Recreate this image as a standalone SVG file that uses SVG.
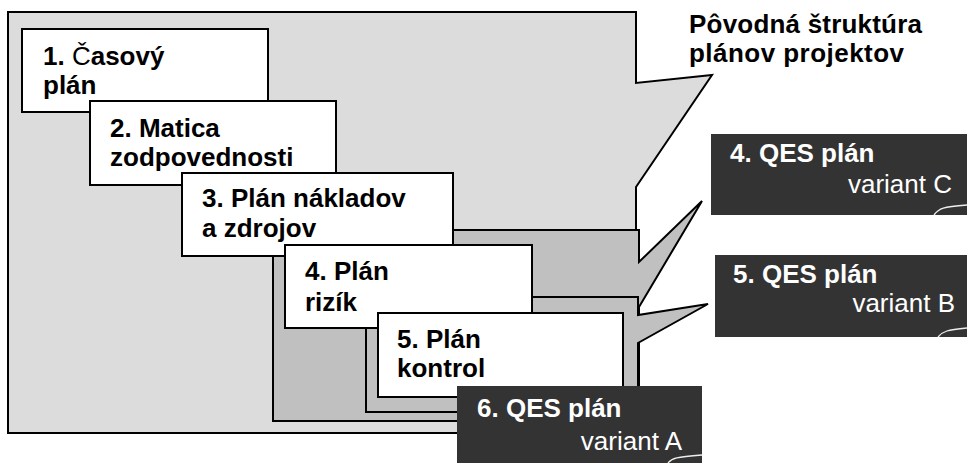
<svg xmlns="http://www.w3.org/2000/svg" width="967" height="463" viewBox="0 0 967 463">
  <style>
    .callout { stroke: #000; stroke-width: 2; stroke-linejoin: miter; }
    .light { fill: #dcdcdc; }
    .mid { fill: #c0c0c0; }
    .card { fill: #fff; stroke: #000; stroke-width: 2; }
    .dark { fill: #333; }
    .curl { fill: none; stroke: #eee; stroke-width: 1.3; }
    text { font-family: "Liberation Sans", Arial, sans-serif; font-size: 26px; }
    .b { font-weight: bold; fill: #000; }
    .w { font-weight: bold; fill: #fff; }
    .wr { font-weight: normal; fill: #fff; text-anchor: end; }
  </style>

  <!-- callout frames -->
  <g id="connectors">
    <path id="frame-original" class="callout light" d="M8,12 H636 V83 L712,75 L636,187 V433 H8 Z"/>
    <path id="frame-variant-c" class="callout mid" d="M273,230 H639 V262 L702,201 L639,307 V421 H273 Z"/>
    <path id="frame-variant-b" class="callout mid" d="M366,297 H638 V315 L708,304 L638,343 V412 H366 Z"/>
  </g>

  <g id="plan-1">
    <rect class="card" x="22" y="29" width="246" height="83"/>
    <text class="b" x="43" y="65">1. <tspan font-weight="normal">Č</tspan>asový</text>
    <text class="b" x="43" y="94">plán</text>
  </g>

  <g id="plan-2">
    <rect class="card" x="90" y="101" width="246" height="84"/>
    <text class="b" x="110" y="137">2. Matica</text>
    <text class="b" x="110" y="166">zodpovednosti</text>
  </g>

  <g id="plan-3">
    <rect class="card" x="182" y="173" width="271" height="83"/>
    <text class="b" x="202" y="207">3. Plán nákladov</text>
    <text class="b" x="202" y="237">a zdrojov</text>
  </g>

  <g id="plan-4">
    <rect class="card" x="285" y="245" width="247" height="83"/>
    <text class="b" x="305" y="280">4. Plán</text>
    <text class="b" x="305" y="311">rizík</text>
  </g>

  <g id="plan-5">
    <rect class="card" x="378" y="313" width="245" height="84"/>
    <text class="b" x="397" y="348">5. Plán</text>
    <text class="b" x="397" y="377">kontrol</text>
  </g>

  <g id="qes-a">
    <rect class="dark" x="457" y="386" width="245" height="77"/>
    <text class="w" x="477" y="417">6. QES plán</text>
    <text class="wr" x="682" y="450">variant A</text>
    <path class="curl" d="M668,463 C672,458 676,457 702,455"/>
  </g>

  <g id="qes-b">
    <rect class="dark" x="715" y="255" width="252" height="82"/>
    <text class="w" x="733" y="283">5. QES plán</text>
    <text class="wr" x="955" y="312">variant B</text>
    <path class="curl" d="M938,337 C943,331 947,330 967,328"/>
  </g>

  <g id="qes-c">
    <rect class="dark" x="711" y="134" width="256" height="81"/>
    <text class="w" x="730" y="162">4. QES plán</text>
    <text class="wr" x="952" y="193">variant C</text>
    <path class="curl" d="M934,215 C939,208 943,207 967,205"/>
  </g>

  <g id="title">
    <text class="b" x="689" y="33" textLength="233" lengthAdjust="spacing">Pôvodná štruktúra</text>
    <text class="b" x="689" y="62" textLength="215" lengthAdjust="spacing">plánov projektov</text>
  </g>
</svg>
